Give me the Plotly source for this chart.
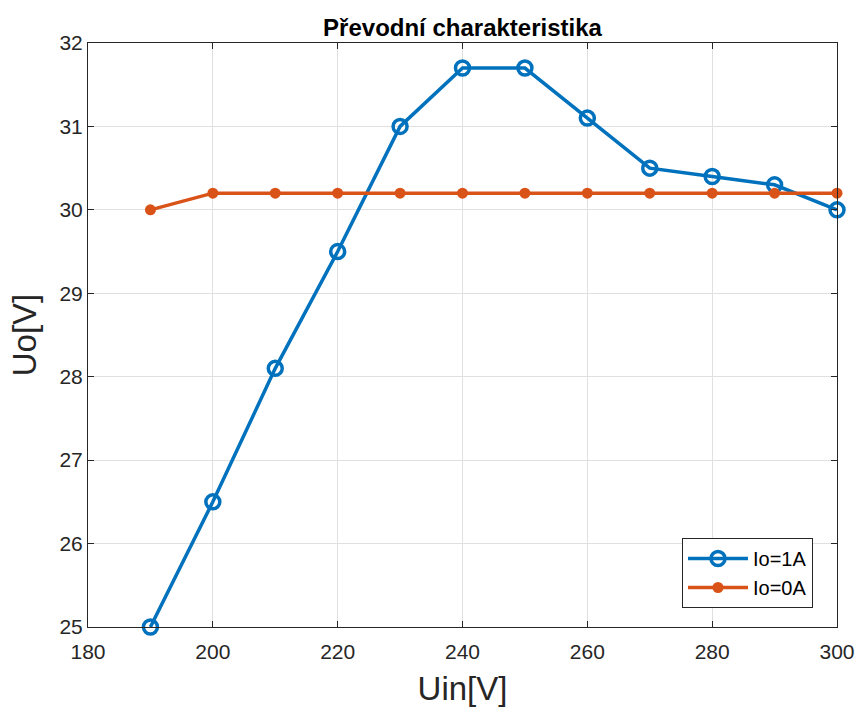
import plotly.graph_objects as go

uin = [190, 200, 210, 220, 230, 240, 250, 260, 270, 280, 290, 300]
uo_1A = [25.0, 26.5, 28.1, 29.5, 31.0, 31.7, 31.7, 31.1, 30.5, 30.4, 30.3, 30.0]
uo_0A = [30.0, 30.2, 30.2, 30.2, 30.2, 30.2, 30.2, 30.2, 30.2, 30.2, 30.2, 30.2]
x_ticks = [180, 200, 220, 240, 260, 280, 300]
y_ticks = [25, 26, 27, 28, 29, 30, 31, 32]

fig = go.Figure()
fig.add_trace(go.Scatter(x=uin, y=uo_1A, name="Io=1A", mode="lines+markers", cliponaxis=False,
                         line=dict(color="#0072BD", width=3.5),
                         marker=dict(symbol="circle-open", size=14, color="#0072BD",
                                     line=dict(width=3.5, color="#0072BD"))))
fig.add_trace(go.Scatter(x=uin, y=uo_0A, name="Io=0A", mode="lines+markers", cliponaxis=False,
                         line=dict(color="#D95319", width=3.5),
                         marker=dict(symbol="circle", size=11, color="#D95319")))

axis_common = dict(showline=True, linecolor="#262626", linewidth=1, mirror="ticks",
                   ticks="inside", ticklen=6, tickcolor="#262626", automargin=False,
                   showgrid=True, gridcolor="#E0E0E0", gridwidth=1, zeroline=False,
                   tickfont=dict(family="Liberation Sans, Arial", size=21, color="#262626"))

fig.update_layout(
    width=859, height=714,
    margin=dict(l=88, r=22, t=43, b=87),
    paper_bgcolor="white", plot_bgcolor="white",
    title=dict(text="<b>Převodní charakteristika</b>", x=0.5 * (88 + 837) / 859, xanchor="center",
               y=1 - 28 / 714, yanchor="middle", yref="container",
               font=dict(family="Liberation Sans, Arial", size=24, color="black")),
    xaxis=dict(range=[180, 300], tickvals=x_ticks, ticklabelstandoff=6,
               title=dict(text="Uin[V]", standoff=14,
                          font=dict(family="Liberation Sans, Arial", size=33, color="#262626")),
               **axis_common),
    yaxis=dict(range=[25, 32], tickvals=y_ticks,
               title=dict(text="Uo[V]", standoff=12,
                          font=dict(family="Liberation Sans, Arial", size=33, color="#262626")),
               **axis_common),
    legend=dict(x=(813 - 88) / (837 - 88), y=(627 - 573) / (627 - 43),
                xanchor="right", yanchor="middle",
                bgcolor="white", bordercolor="#262626", borderwidth=1,
                font=dict(family="Liberation Sans, Arial", size=20, color="black"),
                itemwidth=60, tracegroupgap=0),
    showlegend=True,
)

fig.write_html("out.html")
